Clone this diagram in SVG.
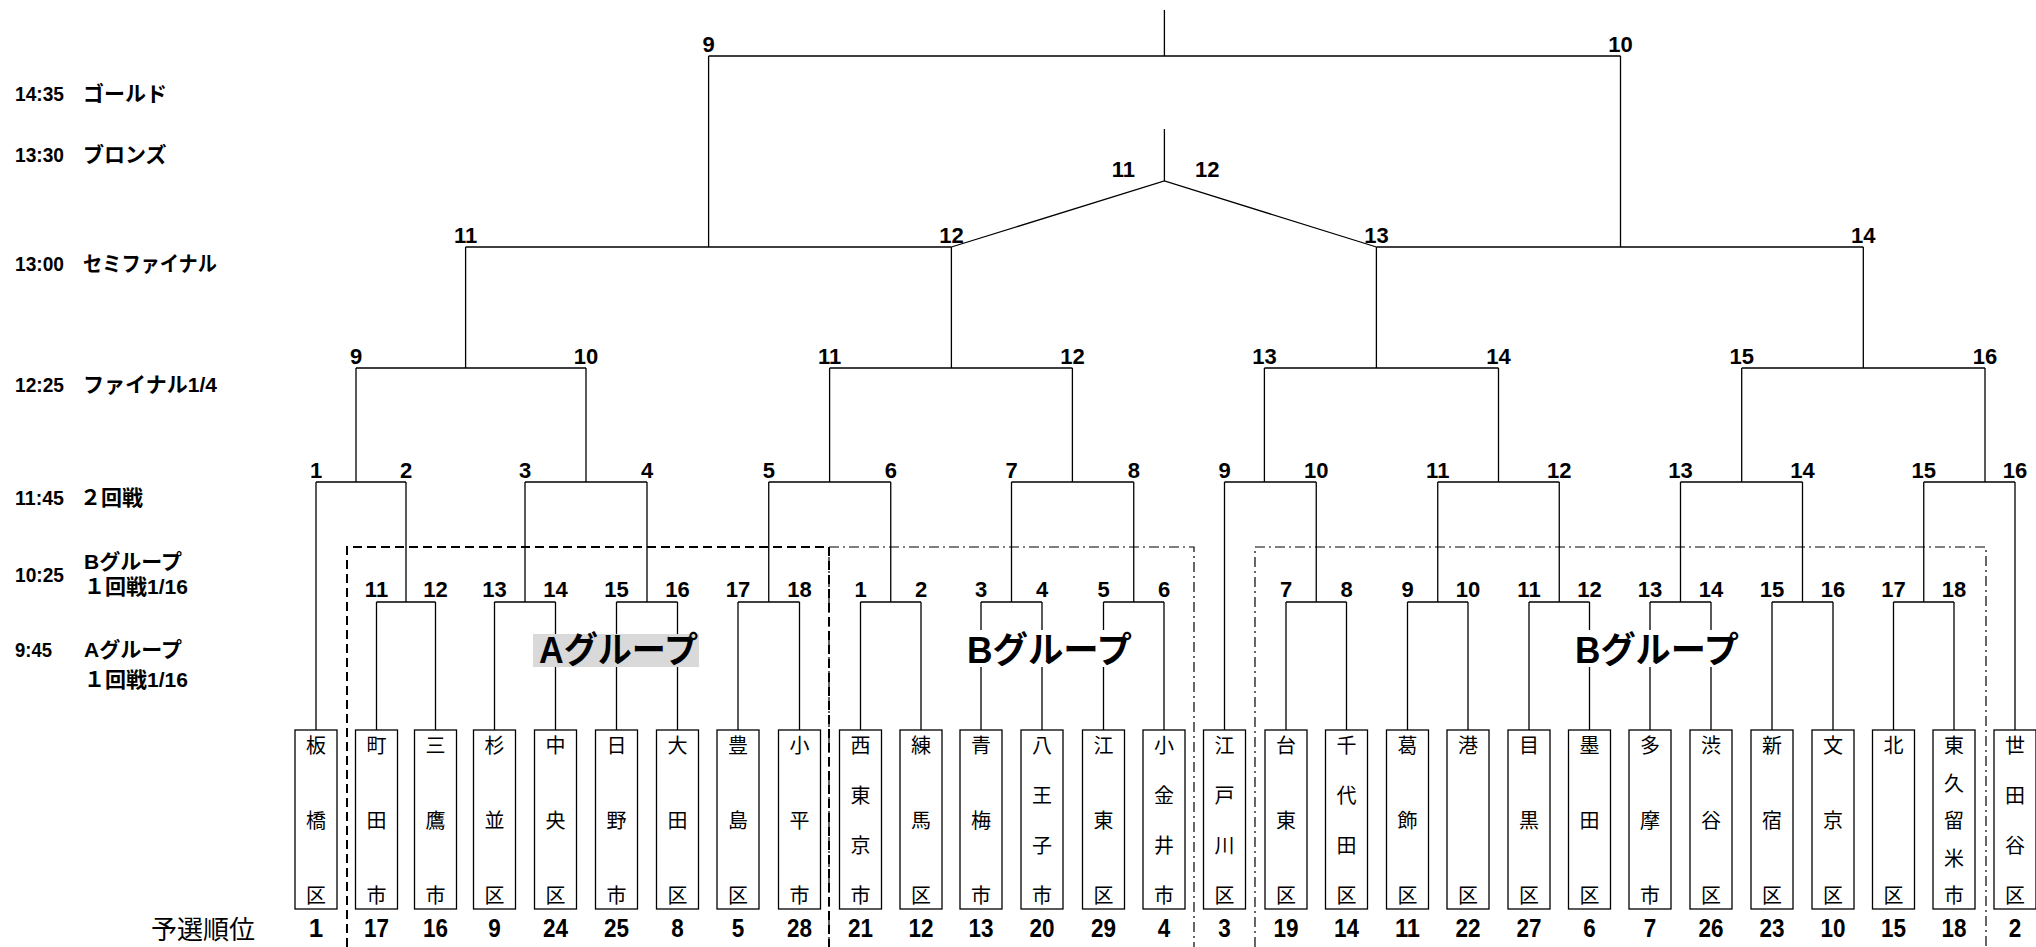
<svg xmlns="http://www.w3.org/2000/svg" width="2036" height="947" viewBox="0 0 2036 947">
<style>
.ln{stroke:#000;stroke-width:1.3;fill:none}
.box{fill:#fff;stroke:#000;stroke-width:1.3}
.num{font-family:"Liberation Sans","Noto Sans CJK JP",sans-serif;font-weight:bold;font-size:22px;text-anchor:middle;fill:#000}
.tm{font-family:"Liberation Sans","Noto Sans CJK JP",sans-serif;font-weight:bold;font-size:21px;fill:#000}
.nm{font-family:"Noto Sans CJK JP",sans-serif;font-size:20px;text-anchor:middle;fill:#000}
.rk{font-family:"Liberation Sans","Noto Sans CJK JP",sans-serif;font-weight:bold;font-size:26px;text-anchor:middle;fill:#000}
.grp{font-family:"Liberation Sans","Noto Sans CJK JP",sans-serif;font-size:36px;font-weight:bold;fill:#000}
.bA{fill:none;stroke:#000;stroke-width:2;stroke-dasharray:9 5}
.bB{fill:none;stroke:#000;stroke-width:1.2;stroke-dasharray:10 4 2 4}
</style>
<rect width="2036" height="947" fill="#fff"/>
<g id="schedule">
<text class="tm" x="15" y="101" textLength="49" lengthAdjust="spacingAndGlyphs">14:35</text><text class="tm" x="83" y="101">ゴールド</text>
<text class="tm" x="15" y="162" textLength="49" lengthAdjust="spacingAndGlyphs">13:30</text><text class="tm" x="83" y="162">ブロンズ</text>
<text class="tm" x="15" y="271" textLength="49" lengthAdjust="spacingAndGlyphs">13:00</text><text class="tm" x="83" y="271" textLength="134" lengthAdjust="spacingAndGlyphs">セミファイナル</text>
<text class="tm" x="15" y="392" textLength="49" lengthAdjust="spacingAndGlyphs">12:25</text><text class="tm" x="83" y="392" textLength="134" lengthAdjust="spacingAndGlyphs">ファイナル1/4</text>
<text class="tm" x="15" y="505" textLength="49" lengthAdjust="spacingAndGlyphs">11:45</text><text class="tm" x="80" y="505">２回戦</text>
<text class="tm" x="15" y="582" textLength="49" lengthAdjust="spacingAndGlyphs">10:25</text><text class="tm" x="84" y="569">Bグループ</text><text class="tm" x="84" y="594">１回戦1/16</text>
<text class="tm" x="15" y="657" textLength="37" lengthAdjust="spacingAndGlyphs">9:45</text><text class="tm" x="84" y="657">Aグループ</text><text class="tm" x="84" y="687">１回戦1/16</text>
<text x="151" y="939" font-family="Noto Sans CJK JP, sans-serif" font-size="26">予選順位</text>
</g>
<g id="group-borders">
<path class="bA" d="M347,947 V547 H829 V947"/>
<path class="bB" d="M829,947 V547 H1194 V947"/>
<path class="bB" d="M1255,947 V547 H1986 V947"/>
</g>
<g id="connectors" class="ln">
<path d="M1164.4,10 V56 M708.6,56 H1620.5 M708.6,56 V247 M1620.5,56 V247"/>
<path d="M1164.4,129 V181 M951.4,247 L1164.4,181 L1376.4,247"/>
<path d="M465.6,247 H951.4 M1376.4,247 H1863.3 M465.6,247 V368 M951.4,247 V368 M1376.4,247 V368 M1863.3,247 V368"/>
<path d="M356,368 H586 M829.6,368 H1072.4 M1264.4,368 H1498.5 M1741.7,368 H1985"/>
<path d="M356,368 V482 M586,368 V482 M829.6,368 V482 M1072.4,368 V482 M1264.4,368 V482 M1498.5,368 V482 M1741.7,368 V482 M1985,368 V482"/>
<path d="M316,482 H406 M525,482 H647 M768.75,482 H890.75 M1011.5,482 H1133.75 M1224.5,482 H1316.25 M1437.75,482 H1559.25 M1680.5,482 H1802.5 M1923.75,482 H2015"/>
<path d="M316,482 V730 M1224.5,482 V730 M2015,482 V730"/>
<path d="M406,482 V602 M525,482 V602 M647,482 V602 M768.75,482 V602 M890.75,482 V602 M1011.5,482 V602 M1133.75,482 V602 M1316.25,482 V602 M1437.75,482 V602 M1559.25,482 V602 M1680.5,482 V602 M1802.5,482 V602 M1923.75,482 V602"/>
<path d="M376.5,602 H435.5 M494.5,602 H555.5 M616.5,602 H677.5 M738,602 H799.5 M860.5,602 H921 M981,602 H1042 M1103.5,602 H1164 M1286,602 H1346.5 M1407.5,602 H1468 M1529,602 H1589.5 M1650,602 H1711 M1772,602 H1833 M1893.5,602 H1954"/>
<path d="M376.5,602 V730 M435.5,602 V730 M494.5,602 V730 M555.5,602 V730 M616.5,602 V730 M677.5,602 V730 M738,602 V730 M799.5,602 V730 M860.5,602 V730 M921,602 V730 M981,602 V730 M1042,602 V730 M1103.5,602 V730 M1164,602 V730 M1286,602 V730 M1346.5,602 V730 M1407.5,602 V730 M1468,602 V730 M1529,602 V730 M1589.5,602 V730 M1650,602 V730 M1711,602 V730 M1772,602 V730 M1833,602 V730 M1893.5,602 V730 M1954,602 V730"/>
</g>
<g id="match-numbers">
<text class="num" x="708.6" y="52">9</text><text class="num" x="1620.5" y="52">10</text>
<text class="num" x="1135" y="177" style="text-anchor:end">11</text><text class="num" x="1195" y="177" style="text-anchor:start">12</text>
<text class="num" x="465.6" y="243">11</text><text class="num" x="951.4" y="243">12</text><text class="num" x="1376.4" y="243">13</text><text class="num" x="1863.3" y="243">14</text>
<text class="num" x="356" y="364">9</text><text class="num" x="586" y="364">10</text><text class="num" x="829.6" y="364">11</text><text class="num" x="1072.4" y="364">12</text><text class="num" x="1264.4" y="364">13</text><text class="num" x="1498.5" y="364">14</text><text class="num" x="1741.7" y="364">15</text><text class="num" x="1985" y="364">16</text>
<text class="num" x="316" y="478">1</text><text class="num" x="406" y="478">2</text><text class="num" x="525" y="478">3</text><text class="num" x="647" y="478">4</text><text class="num" x="768.75" y="478">5</text><text class="num" x="890.75" y="478">6</text><text class="num" x="1011.5" y="478">7</text><text class="num" x="1133.75" y="478">8</text><text class="num" x="1224.5" y="478">9</text><text class="num" x="1316.25" y="478">10</text><text class="num" x="1437.75" y="478">11</text><text class="num" x="1559.25" y="478">12</text><text class="num" x="1680.5" y="478">13</text><text class="num" x="1802.5" y="478">14</text><text class="num" x="1923.75" y="478">15</text><text class="num" x="2015" y="478">16</text>
<text class="num" x="376.5" y="597">11</text><text class="num" x="435.5" y="597">12</text><text class="num" x="494.5" y="597">13</text><text class="num" x="555.5" y="597">14</text><text class="num" x="616.5" y="597">15</text><text class="num" x="677.5" y="597">16</text><text class="num" x="738" y="597">17</text><text class="num" x="799.5" y="597">18</text>
<text class="num" x="860.5" y="597">1</text><text class="num" x="921" y="597">2</text><text class="num" x="981" y="597">3</text><text class="num" x="1042" y="597">4</text><text class="num" x="1103.5" y="597">5</text><text class="num" x="1164" y="597">6</text>
<text class="num" x="1286" y="597">7</text><text class="num" x="1346.5" y="597">8</text><text class="num" x="1407.5" y="597">9</text><text class="num" x="1468" y="597">10</text><text class="num" x="1529" y="597">11</text><text class="num" x="1589.5" y="597">12</text><text class="num" x="1650" y="597">13</text><text class="num" x="1711" y="597">14</text><text class="num" x="1772" y="597">15</text><text class="num" x="1833" y="597">16</text><text class="num" x="1893.5" y="597">17</text><text class="num" x="1954" y="597">18</text>
</g>
<g id="group-a-label">
<rect x="533" y="634" width="166" height="33" fill="#d9d9d9"/>
<text class="grp" x="539" y="663" textLength="159" lengthAdjust="spacingAndGlyphs">Aグループ</text>
</g>
<g id="group-b1-label">
<rect x="962" y="630" width="174" height="37" fill="#fff"/>
<text class="grp" x="967" y="663" textLength="165" lengthAdjust="spacingAndGlyphs">Bグループ</text>
</g>
<g id="group-b2-label">
<rect x="1570" y="630" width="174" height="37" fill="#fff"/>
<text class="grp" x="1575" y="663" textLength="164" lengthAdjust="spacingAndGlyphs">Bグループ</text>
</g>
<g id="n-itabashi"><rect class="box" x="295" y="730" width="42" height="179"/><text class="nm" x="316" y="753">板</text><text class="nm" x="316" y="828">橋</text><text class="nm" x="316" y="903">区</text><text class="rk" x="316" y="937">1</text></g>
<g id="n-machida"><rect class="box" x="355.5" y="730" width="42" height="179"/><text class="nm" x="376.5" y="753">町</text><text class="nm" x="376.5" y="828">田</text><text class="nm" x="376.5" y="903">市</text><text class="rk" x="376.5" y="937" textLength="25" lengthAdjust="spacingAndGlyphs">17</text></g>
<g id="n-mitaka"><rect class="box" x="414.5" y="730" width="42" height="179"/><text class="nm" x="435.5" y="753">三</text><text class="nm" x="435.5" y="828">鷹</text><text class="nm" x="435.5" y="903">市</text><text class="rk" x="435.5" y="937" textLength="25" lengthAdjust="spacingAndGlyphs">16</text></g>
<g id="n-suginami"><rect class="box" x="473.5" y="730" width="42" height="179"/><text class="nm" x="494.5" y="753">杉</text><text class="nm" x="494.5" y="828">並</text><text class="nm" x="494.5" y="903">区</text><text class="rk" x="494.5" y="937" textLength="12.5" lengthAdjust="spacingAndGlyphs">9</text></g>
<g id="n-chuo"><rect class="box" x="534.5" y="730" width="42" height="179"/><text class="nm" x="555.5" y="753">中</text><text class="nm" x="555.5" y="828">央</text><text class="nm" x="555.5" y="903">区</text><text class="rk" x="555.5" y="937" textLength="25" lengthAdjust="spacingAndGlyphs">24</text></g>
<g id="n-hino"><rect class="box" x="595.5" y="730" width="42" height="179"/><text class="nm" x="616.5" y="753">日</text><text class="nm" x="616.5" y="828">野</text><text class="nm" x="616.5" y="903">市</text><text class="rk" x="616.5" y="937" textLength="25" lengthAdjust="spacingAndGlyphs">25</text></g>
<g id="n-ota"><rect class="box" x="656.5" y="730" width="42" height="179"/><text class="nm" x="677.5" y="753">大</text><text class="nm" x="677.5" y="828">田</text><text class="nm" x="677.5" y="903">区</text><text class="rk" x="677.5" y="937" textLength="12.5" lengthAdjust="spacingAndGlyphs">8</text></g>
<g id="n-toshima"><rect class="box" x="717" y="730" width="42" height="179"/><text class="nm" x="738" y="753">豊</text><text class="nm" x="738" y="828">島</text><text class="nm" x="738" y="903">区</text><text class="rk" x="738" y="937" textLength="12.5" lengthAdjust="spacingAndGlyphs">5</text></g>
<g id="n-kodaira"><rect class="box" x="778.5" y="730" width="42" height="179"/><text class="nm" x="799.5" y="753">小</text><text class="nm" x="799.5" y="828">平</text><text class="nm" x="799.5" y="903">市</text><text class="rk" x="799.5" y="937" textLength="25" lengthAdjust="spacingAndGlyphs">28</text></g>
<g id="n-nishitokyo"><rect class="box" x="839.5" y="730" width="42" height="179"/><text class="nm" x="860.5" y="753">西</text><text class="nm" x="860.5" y="803">東</text><text class="nm" x="860.5" y="853">京</text><text class="nm" x="860.5" y="903">市</text><text class="rk" x="860.5" y="937" textLength="25" lengthAdjust="spacingAndGlyphs">21</text></g>
<g id="n-nerima"><rect class="box" x="900" y="730" width="42" height="179"/><text class="nm" x="921" y="753">練</text><text class="nm" x="921" y="828">馬</text><text class="nm" x="921" y="903">区</text><text class="rk" x="921" y="937" textLength="25" lengthAdjust="spacingAndGlyphs">12</text></g>
<g id="n-ome"><rect class="box" x="960" y="730" width="42" height="179"/><text class="nm" x="981" y="753">青</text><text class="nm" x="981" y="828">梅</text><text class="nm" x="981" y="903">市</text><text class="rk" x="981" y="937" textLength="25" lengthAdjust="spacingAndGlyphs">13</text></g>
<g id="n-hachioji"><rect class="box" x="1021" y="730" width="42" height="179"/><text class="nm" x="1042" y="753">八</text><text class="nm" x="1042" y="803">王</text><text class="nm" x="1042" y="853">子</text><text class="nm" x="1042" y="903">市</text><text class="rk" x="1042" y="937" textLength="25" lengthAdjust="spacingAndGlyphs">20</text></g>
<g id="n-koto"><rect class="box" x="1082.5" y="730" width="42" height="179"/><text class="nm" x="1103.5" y="753">江</text><text class="nm" x="1103.5" y="828">東</text><text class="nm" x="1103.5" y="903">区</text><text class="rk" x="1103.5" y="937" textLength="25" lengthAdjust="spacingAndGlyphs">29</text></g>
<g id="n-koganei"><rect class="box" x="1143" y="730" width="42" height="179"/><text class="nm" x="1164" y="753">小</text><text class="nm" x="1164" y="803">金</text><text class="nm" x="1164" y="853">井</text><text class="nm" x="1164" y="903">市</text><text class="rk" x="1164" y="937" textLength="12.5" lengthAdjust="spacingAndGlyphs">4</text></g>
<g id="n-edogawa"><rect class="box" x="1203.5" y="730" width="42" height="179"/><text class="nm" x="1224.5" y="753">江</text><text class="nm" x="1224.5" y="803">戸</text><text class="nm" x="1224.5" y="853">川</text><text class="nm" x="1224.5" y="903">区</text><text class="rk" x="1224.5" y="937" textLength="12.5" lengthAdjust="spacingAndGlyphs">3</text></g>
<g id="n-taito"><rect class="box" x="1265" y="730" width="42" height="179"/><text class="nm" x="1286" y="753">台</text><text class="nm" x="1286" y="828">東</text><text class="nm" x="1286" y="903">区</text><text class="rk" x="1286" y="937" textLength="25" lengthAdjust="spacingAndGlyphs">19</text></g>
<g id="n-chiyoda"><rect class="box" x="1325.5" y="730" width="42" height="179"/><text class="nm" x="1346.5" y="753">千</text><text class="nm" x="1346.5" y="803">代</text><text class="nm" x="1346.5" y="853">田</text><text class="nm" x="1346.5" y="903">区</text><text class="rk" x="1346.5" y="937" textLength="25" lengthAdjust="spacingAndGlyphs">14</text></g>
<g id="n-katsushika"><rect class="box" x="1386.5" y="730" width="42" height="179"/><text class="nm" x="1407.5" y="753">葛</text><text class="nm" x="1407.5" y="828">飾</text><text class="nm" x="1407.5" y="903">区</text><text class="rk" x="1407.5" y="937" textLength="25" lengthAdjust="spacingAndGlyphs">11</text></g>
<g id="n-minato"><rect class="box" x="1447" y="730" width="42" height="179"/><text class="nm" x="1468" y="753">港</text><text class="nm" x="1468" y="903">区</text><text class="rk" x="1468" y="937" textLength="25" lengthAdjust="spacingAndGlyphs">22</text></g>
<g id="n-meguro"><rect class="box" x="1508" y="730" width="42" height="179"/><text class="nm" x="1529" y="753">目</text><text class="nm" x="1529" y="828">黒</text><text class="nm" x="1529" y="903">区</text><text class="rk" x="1529" y="937" textLength="25" lengthAdjust="spacingAndGlyphs">27</text></g>
<g id="n-sumida"><rect class="box" x="1568.5" y="730" width="42" height="179"/><text class="nm" x="1589.5" y="753">墨</text><text class="nm" x="1589.5" y="828">田</text><text class="nm" x="1589.5" y="903">区</text><text class="rk" x="1589.5" y="937" textLength="12.5" lengthAdjust="spacingAndGlyphs">6</text></g>
<g id="n-tama"><rect class="box" x="1629" y="730" width="42" height="179"/><text class="nm" x="1650" y="753">多</text><text class="nm" x="1650" y="828">摩</text><text class="nm" x="1650" y="903">市</text><text class="rk" x="1650" y="937" textLength="12.5" lengthAdjust="spacingAndGlyphs">7</text></g>
<g id="n-shibuya"><rect class="box" x="1690" y="730" width="42" height="179"/><text class="nm" x="1711" y="753">渋</text><text class="nm" x="1711" y="828">谷</text><text class="nm" x="1711" y="903">区</text><text class="rk" x="1711" y="937" textLength="25" lengthAdjust="spacingAndGlyphs">26</text></g>
<g id="n-shinjuku"><rect class="box" x="1751" y="730" width="42" height="179"/><text class="nm" x="1772" y="753">新</text><text class="nm" x="1772" y="828">宿</text><text class="nm" x="1772" y="903">区</text><text class="rk" x="1772" y="937" textLength="25" lengthAdjust="spacingAndGlyphs">23</text></g>
<g id="n-bunkyo"><rect class="box" x="1812" y="730" width="42" height="179"/><text class="nm" x="1833" y="753">文</text><text class="nm" x="1833" y="828">京</text><text class="nm" x="1833" y="903">区</text><text class="rk" x="1833" y="937" textLength="25" lengthAdjust="spacingAndGlyphs">10</text></g>
<g id="n-kita"><rect class="box" x="1872.5" y="730" width="42" height="179"/><text class="nm" x="1893.5" y="753">北</text><text class="nm" x="1893.5" y="903">区</text><text class="rk" x="1893.5" y="937" textLength="25" lengthAdjust="spacingAndGlyphs">15</text></g>
<g id="n-higashikurume"><rect class="box" x="1933" y="730" width="42" height="179"/><text class="nm" x="1954" y="753">東</text><text class="nm" x="1954" y="790.5">久</text><text class="nm" x="1954" y="828">留</text><text class="nm" x="1954" y="865.5">米</text><text class="nm" x="1954" y="903">市</text><text class="rk" x="1954" y="937" textLength="25" lengthAdjust="spacingAndGlyphs">18</text></g>
<g id="n-setagaya"><rect class="box" x="1994" y="730" width="42" height="179"/><text class="nm" x="2015" y="753">世</text><text class="nm" x="2015" y="803">田</text><text class="nm" x="2015" y="853">谷</text><text class="nm" x="2015" y="903">区</text><text class="rk" x="2015" y="937" textLength="12.5" lengthAdjust="spacingAndGlyphs">2</text></g>
</svg>
